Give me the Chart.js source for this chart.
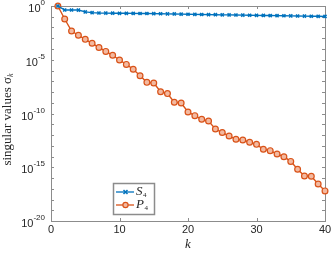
<!DOCTYPE html>
<html><head><meta charset="utf-8">
<script src="https://cdn.jsdelivr.net/npm/chart.js@4/dist/chart.umd.min.js"></script>
<style>html,body{margin:0;padding:0;background:#fff}#w{position:relative;width:332px;height:254px}</style>
</head><body><div id="w"><canvas id="c"></canvas></div>
<script>
const ks = Array.from({length:40},(_,i)=>i+1);
const seriesS4 = [1,0.427,0.427,0.42,0.282,0.24,0.224,0.219,0.214,0.209,0.209,0.204,0.2,0.2,0.195,0.191,0.186,0.182,0.174,0.17,0.166,0.162,0.158,0.155,0.151,0.148,0.145,0.141,0.138,0.135,0.132,0.129,0.126,0.123,0.12,0.117,0.115,0.112,0.11,0.107];
const seriesP4 = [1,6.2e-2,4.7e-3,1.9e-3,7.9e-4,3.4e-4,1.4e-4,6.0e-5,2.6e-5,9.5e-6,3.7e-6,1.3e-6,3.3e-7,7.9e-8,6.9e-8,1.07e-8,7.1e-9,1.1e-9,9.5e-10,1.4e-10,6.3e-11,2.9e-11,2.0e-11,3.6e-12,1.7e-12,8.1e-13,4.0e-13,3.4e-13,2.1e-13,1.35e-13,4.7e-14,3.5e-14,1.7e-14,9.5e-15,3.5e-15,6.5e-16,1.55e-16,1.45e-16,2.75e-17,6.3e-18];
const xTicks = [0,10,20,30,40];
const yTickExp = [0,-5,-10,-15,-20];
const legendNames = ['S','P'];
const legendSub = '4';
const xTitle = 'k';
const yTitle = 'singular values σ';
const yTitleSub = 'k';

const BLUE = '#0072BD', RED = '#D95319', AX = '#8c8c8c', TXT = '#262626';

const axesPlugin = {
  id:'axesPlugin',
  beforeDatasetsDraw(chart){
    const ctx = chart.ctx, a = chart.chartArea, xs = chart.scales.x, ys = chart.scales.y;
    ctx.save();
    ctx.strokeStyle = AX; ctx.lineWidth = 1;
    ctx.strokeRect(Math.round(a.left)+0.5, Math.round(a.top)+0.5, Math.round(a.right-a.left), Math.round(a.bottom-a.top));
    const tl = 3;
    ctx.beginPath();
    xTicks.forEach(v=>{
      const px = Math.round(xs.getPixelForValue(v))+0.5;
      ctx.moveTo(px, a.bottom); ctx.lineTo(px, a.bottom - tl);
      ctx.moveTo(px, a.top); ctx.lineTo(px, a.top + tl);
    });
    for(let e=0;e>=-20;e--){
      const py = Math.round(ys.getPixelForValue(Math.pow(10,e)))+0.5;
      ctx.moveTo(a.left, py); ctx.lineTo(a.left + tl, py);
      ctx.moveTo(a.right, py); ctx.lineTo(a.right - tl, py);
    }
    ctx.stroke();
    ctx.restore();
  },
  afterDatasetsDraw(chart){
    const ctx = chart.ctx, a = chart.chartArea, xs = chart.scales.x, ys = chart.scales.y;
    ctx.save();
    // tick labels
    ctx.fillStyle = TXT;
    ctx.font = '11px "Liberation Sans", Arial, sans-serif';
    ctx.textAlign = 'center'; ctx.textBaseline = 'middle';
    xTicks.forEach(v=>{
      ctx.fillText(String(v), xs.getPixelForValue(v), a.bottom + 9);
    });
    yTickExp.forEach(e=>{
      const py = ys.getPixelForValue(Math.pow(10,e));
      const exp = e===0 ? '0' : '-' + Math.abs(e);
      ctx.font = '8px "Liberation Sans", Arial, sans-serif';
      const ew = ctx.measureText(exp).width;
      const right = a.left - 6;
      ctx.textAlign = 'left';
      ctx.fillText(exp, right - ew, py - 3);
      ctx.font = '11px "Liberation Sans", Arial, sans-serif';
      ctx.textAlign = 'right';
      ctx.fillText('10', right - ew, py + 3);
    });
    // x title
    ctx.font = 'italic 13px "Liberation Serif", "Times New Roman", serif';
    ctx.textAlign = 'center';
    ctx.fillText(xTitle, (a.left+a.right)/2, a.bottom + 24);
    // y title
    ctx.save();
    ctx.translate(8, (a.top+a.bottom)/2 + 6);
    ctx.rotate(-Math.PI/2);
    ctx.font = '13px "Liberation Serif", "Times New Roman", serif';
    const w1 = ctx.measureText(yTitle).width;
    ctx.font = 'italic 8px "Liberation Serif", serif';
    const w2 = ctx.measureText(yTitleSub).width;
    const start = -(w1+w2)/2;
    ctx.font = '13px "Liberation Serif", "Times New Roman", serif';
    ctx.textAlign = 'left';
    ctx.fillText(yTitle, start, 0);
    ctx.font = 'italic 8px "Liberation Serif", serif';
    ctx.fillText(yTitleSub, start + w1, 3);
    ctx.restore();
    // legend
    const lx = 113, ly = 183, lw = 41, lh = 31;
    ctx.fillStyle = '#fff';
    ctx.fillRect(lx, ly, lw, lh);
    ctx.strokeStyle = AX;
    ctx.strokeRect(lx+0.5, ly+0.5, lw, lh);
    const rows = [{c:BLUE, y:ly+9, m:'x'}, {c:RED, y:ly+22, m:'o'}];
    rows.forEach((r,i)=>{
      ctx.strokeStyle = r.c; ctx.lineWidth = 1.3;
      ctx.beginPath(); ctx.moveTo(lx+3, r.y); ctx.lineTo(lx+21, r.y); ctx.stroke();
      if(r.m==='x'){
        ctx.lineWidth=1.5;
        ctx.beginPath(); ctx.moveTo(lx+10.5,r.y-2); ctx.lineTo(lx+14.5,r.y+2); ctx.moveTo(lx+10.5,r.y+2); ctx.lineTo(lx+14.5,r.y-2); ctx.stroke();
      } else {
        ctx.lineWidth=1.2; ctx.fillStyle='#f3b9a0';
        ctx.beginPath(); ctx.arc(lx+12.5, r.y, 2.6, 0, 2*Math.PI); ctx.fill(); ctx.stroke();
      }
      ctx.fillStyle = TXT;
      ctx.font = 'italic 13px "Liberation Serif", serif';
      ctx.textAlign='left'; ctx.textBaseline='middle';
      ctx.fillText(legendNames[i], lx+23, r.y);
      const nw = ctx.measureText(legendNames[i]).width;
      ctx.font = '7px "Liberation Serif", serif';
      ctx.fillText(legendSub, lx+23+nw+0.5, r.y+3);
    });
    ctx.restore();
  }
};

new Chart(document.getElementById('c'), {
  type:'line',
  data:{
    labels: ks,
    datasets:[
      {label:'S4', data: ks.map((k,i)=>({x:k,y:seriesS4[i]})), borderColor:BLUE, backgroundColor:BLUE, borderWidth:1.4, clip:false,
       pointStyle:'crossRot', pointRadius:2.2, pointBorderWidth:1.5, pointBorderColor:BLUE, tension:0},
      {label:'P4', data: ks.map((k,i)=>({x:k,y:seriesP4[i]})), borderColor:RED, backgroundColor:'#f3b9a0', borderWidth:1.4, clip:false,
       pointStyle:'circle', pointRadius:2.9, pointBorderWidth:1.2, pointBorderColor:RED, tension:0}
    ]
  },
  options:{
    responsive:true, maintainAspectRatio:false, animation:false,
    devicePixelRatio:1,
    layout:{padding:{left:51, right:7, top:6, bottom:33}},
    plugins:{legend:{display:false}, tooltip:{enabled:false}},
    scales:{
      x:{type:'linear', min:0, max:40, display:false},
      y:{type:'logarithmic', min:1e-20, max:1, display:false}
    }
  },
  plugins:[axesPlugin]
});
</script></body></html>
